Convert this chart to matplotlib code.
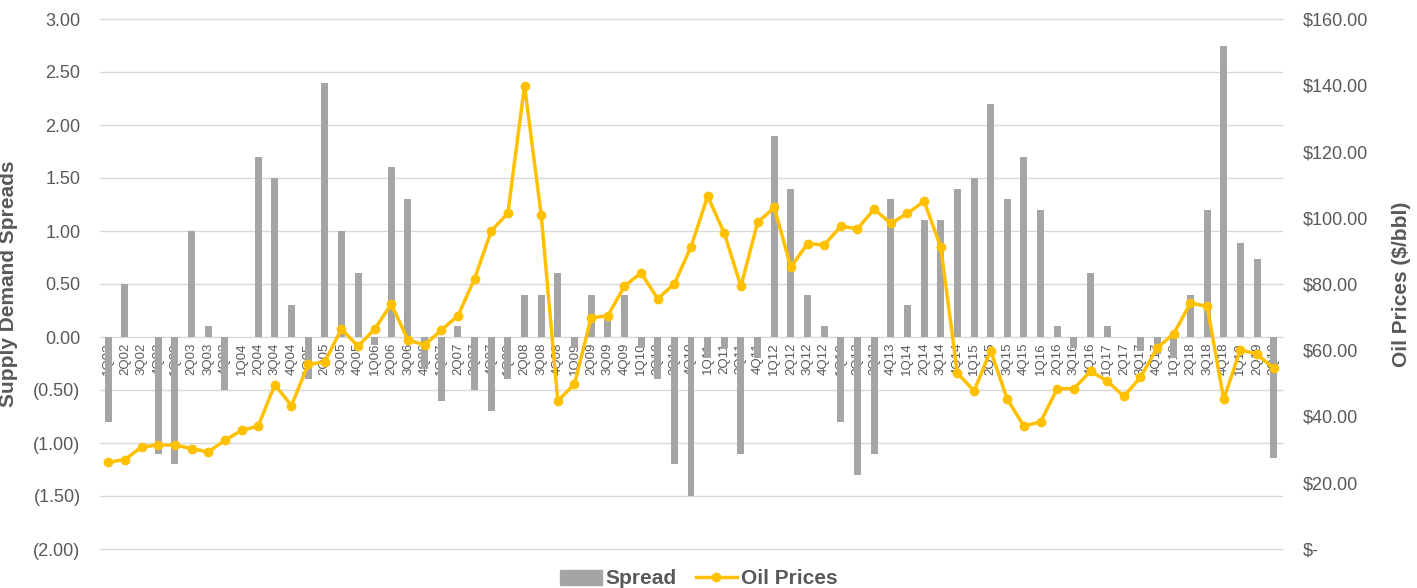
import matplotlib
matplotlib.use("Agg")
import matplotlib.pyplot as plt
from matplotlib.ticker import FuncFormatter, MultipleLocator
from matplotlib.lines import Line2D
from matplotlib.patches import Patch

quarters = [f"{q}Q{y:02d}" for y in range(2, 20) for q in range(1, 5)][:71]

spread = [
    -0.8, 0.5, 0.0, -1.1,
    -1.2, 1.0, 0.1, -0.5,
    0.0, 1.7, 1.5, 0.3,
    -0.4, 2.4, 1.0, 0.6,
    -0.08, 1.6, 1.3, -0.3,
    -0.6, 0.1, -0.5, -0.7,
    -0.4, 0.4, 0.4, 0.6,
    -0.1, 0.4, 0.2, 0.4,
    -0.1, -0.4, -1.2, -1.5,
    -0.2, -0.1, -1.1, -0.2,
    1.9, 1.4, 0.4, 0.1,
    -0.8, -1.3, -1.1, 1.3,
    0.3, 1.1, 1.1, 1.4,
    1.5, 2.2, 1.3, 1.7,
    1.2, 0.1, -0.1, 0.6,
    0.1, 0.0, -0.13, -0.16,
    -0.2, 0.4, 1.2, 2.75,
    0.89, 0.74, -1.14,
]

oil = [
    26.2, 27.0, 30.8, 31.4,
    31.4, 30.3, 29.3, 32.8,
    35.8, 37.1, 49.6, 43.3,
    55.7, 56.5, 66.4, 61.2,
    66.4, 73.9, 63.1, 61.6,
    66.1, 70.4, 81.6, 96.0,
    101.4, 139.9, 100.9, 44.7,
    49.8, 69.8, 70.4, 79.3,
    83.4, 75.5, 80.1, 91.2,
    106.5, 95.3, 79.3, 98.6,
    103.1, 85.1, 92.2, 91.8,
    97.4, 96.7, 102.6, 98.3,
    101.3, 105.0, 91.2, 53.1,
    47.7, 59.9, 45.2, 37.1,
    38.4, 48.4, 48.4, 53.7,
    50.7, 46.1, 51.8, 60.7,
    65.0, 74.2, 73.3, 45.2,
    60.2, 58.8, 54.5,
]

TXT = "#595959"
GRID = "#d9d9d9"
BAR = "#a5a5a5"
LINE = "#ffc000"

plt.rcParams['font.family'] = ['Liberation Sans', 'DejaVu Sans']

fig = plt.figure(figsize=(14.17, 5.88), dpi=100)
ax = fig.add_axes([100/1417, 1-549/588, (1282-100)/1417, (549-19)/588])
ax2 = ax.twinx()

x = list(range(len(quarters)))
ax.bar(x, spread, width=0.42, color=BAR, zorder=2)
ax.set_ylim(-2, 3)
ax.set_xlim(-0.5, len(quarters) - 0.5)
ax.yaxis.set_major_locator(MultipleLocator(0.5))

def lfmt(v, pos):
    if abs(v) < 1e-9:
        return "0.00"
    if v < 0:
        return f"({abs(v):.2f})"
    return f"{v:.2f}"

ax.yaxis.set_major_formatter(FuncFormatter(lfmt))
ax.grid(axis='y', color=GRID, linewidth=1, zorder=0)
for gl in ax.get_ygridlines():
    gl.set_clip_on(False)
ax.set_axisbelow(True)
for s in ax.spines.values():
    s.set_visible(False)
ax.spines['bottom'].set_position(('data', 0))
ax.set_xticks(x)
ax.set_xticklabels(quarters, rotation=90, fontsize=9.5, color=TXT, va='top')
ax.tick_params(axis='x', length=0, pad=4)
ax.tick_params(axis='y', length=0, pad=14, labelsize=13, labelcolor=TXT)
ax.set_ylabel("Supply Demand Spreads", fontsize=15, fontweight='bold', color=TXT)
ax.yaxis.set_label_coords((18 - 100) / 1182, 0.5)

ax2.plot(x, oil, color=LINE, linewidth=2.5, marker='o', markersize=6, zorder=5)
ax2.set_ylim(0, 160)
ax2.yaxis.set_major_locator(MultipleLocator(20))

def rfmt(v, pos):
    if abs(v) < 1e-9:
        return "$-"
    return f"${v:.2f}"

ax2.yaxis.set_major_formatter(FuncFormatter(rfmt))
for s in ax2.spines.values():
    s.set_visible(False)
ax2.tick_params(axis='y', length=0, pad=15, labelsize=13, labelcolor=TXT)
ax2.set_ylabel("Oil Prices ($/bbl)", fontsize=15, fontweight='bold', color=TXT)
ax2.yaxis.set_label_coords((1392 - 100) / 1182, 0.5)

ax.set_zorder(1)
ax2.set_zorder(2)
ax2.patch.set_visible(False)

handles = [Patch(color=BAR), Line2D([0], [0], color=LINE, linewidth=2.5, marker='o', markersize=6)]
leg = fig.legend(handles, ["Spread", "Oil Prices"], loc='center', bbox_to_anchor=(699/1417, 1-579/588),
                 ncol=2, frameon=False, handlelength=2.0, columnspacing=0.9, handletextpad=0.2,
                 prop={'size': 15, 'weight': 'bold'})
for t in leg.get_texts():
    t.set_color(TXT)

fig.savefig("out.png", dpi=100)
